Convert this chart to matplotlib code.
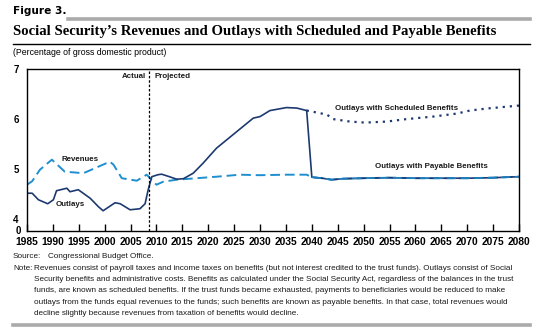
import matplotlib
matplotlib.use("Agg")
import matplotlib.pyplot as plt
from matplotlib.lines import Line2D

W, H = 534, 329

# Social Security outlays (scheduled benefits through 2039), % of GDP
outlay_years = [1985, 1986, 1987.2, 1989, 1990.1, 1990.7, 1992.7, 1993.3, 1994.9,
                1997.2, 1998.8, 1999.7, 2002, 2003, 2004.9, 2006.8, 2007.8,
                2008.4, 2009.1, 2010.3, 2011, 2012.5, 2013.9, 2015.2, 2017.1,
                2019, 2021.6, 2025.5, 2028.7, 2030, 2031.9, 2035.1, 2037.1, 2039]
outlay_vals = [4.52, 4.52, 4.39, 4.31, 4.39, 4.57, 4.62, 4.55, 4.59,
               4.42, 4.25, 4.17, 4.33, 4.31, 4.19, 4.21, 4.31,
               4.59, 4.85, 4.89, 4.90, 4.85, 4.80, 4.81, 4.92,
               5.12, 5.42, 5.75, 6.02, 6.05, 6.17, 6.23, 6.22, 6.17]

# scheduled benefits after trust fund exhaustion
sched_years = [2039, 2041, 2042.9, 2044.1, 2047.4, 2050.3, 2054.4, 2058.3,
               2063.4, 2068, 2070.5, 2073.7, 2080]
sched_vals = [6.17, 6.13, 6.09, 6.00, 5.95, 5.93, 5.95, 6.00,
              6.05, 6.11, 6.17, 6.21, 6.27]

# payable benefits after exhaustion
pay_years = [2039, 2040, 2042, 2043.8, 2046, 2050, 2055, 2060, 2065, 2070, 2075, 2080]
pay_vals = [6.17, 4.84, 4.82, 4.79, 4.81, 4.82, 4.83, 4.82, 4.82, 4.82, 4.83, 4.85]

# revenues
rev_years = [1985, 1986, 1987.5, 1989.8, 1992.3, 1995.9, 2001, 2001.7, 2003.3,
             2006.2, 2008.1, 2010, 2011.3, 2013.9, 2017.8, 2021.6, 2026.1,
             2030, 2035, 2039, 2040, 2042, 2043.8, 2046, 2050, 2055, 2060,
             2065, 2070, 2075, 2080]
rev_vals = [4.69, 4.76, 4.99, 5.19, 4.95, 4.92, 5.15, 5.09, 4.82,
            4.77, 4.89, 4.69, 4.75, 4.79, 4.82, 4.85, 4.89,
            4.88, 4.89, 4.89, 4.84, 4.82, 4.79, 4.81, 4.82, 4.83, 4.82,
            4.82, 4.82, 4.83, 4.85]

xticks = list(range(1985, 2081, 5))
yticks = [4, 5, 6, 7]
split_year = 2008.5

navy = "#1d3a70"
lightblue = "#1f8fd0"
ink = "#1a1a1a"
sans = "Liberation Sans"


def fx(x):
    return x / W


def fy(y):
    return 1 - y / H


fig = plt.figure(figsize=(W / 100, H / 100), dpi=100)

# header rules and texts
fig.add_artist(Line2D([fx(68), fx(530)], [fy(19), fy(19)], color="#aaaaaa", lw=2.6))
fig.add_artist(Line2D([fx(13), fx(530)], [fy(43.5), fy(43.5)], color="black", lw=1.0))
fig.add_artist(Line2D([fx(13), fx(530)], [fy(324.5), fy(324.5)], color="#aaaaaa", lw=2.6))
fig.text(fx(13), fy(11), "Figure 3.", fontsize=7.6, fontweight="heavy",
         family="DejaVu Sans", va="center", ha="left")
fig.text(fx(13), fy(32), "Social Security\u2019s Revenues and Outlays with Scheduled and Payable Benefits",
         fontsize=10.6, fontweight="bold", family="Liberation Serif", va="center", ha="left")
fig.text(fx(13), fy(52.5), "(Percentage of gross domestic product)",
         fontsize=6.3, family=sans, va="center", ha="left")

ax = fig.add_axes([fx(27), fy(231), fx(519) - fx(27), fy(69) - fy(231)])
ax.set_xlim(1985, 2080)
ax.set_ylim(3.766, 7)

ax.plot(rev_years, rev_vals, color=lightblue, lw=1.4, dashes=(5, 2.5))
ax.plot(pay_years, pay_vals, color=navy, lw=1.2)
ax.plot(rev_years[-11:], rev_vals[-11:], color=lightblue, lw=1.3, dashes=(5, 2.5), alpha=0.8)
ax.plot(outlay_years, outlay_vals, color=navy, lw=1.2)
ax.plot(sched_years, sched_vals, color=navy, lw=1.6, dashes=(1, 2.2))
ax.axvline(split_year, color="black", lw=0.9, dashes=(2, 1.5))

for s in ax.spines.values():
    s.set_linewidth(1.0)
ax.set_xticks(xticks)
ax.set_xticklabels([str(t) for t in xticks], fontsize=7.4, fontweight="bold", family=sans)
ax.tick_params(axis="x", direction="in", length=5, width=1, pad=4)
ax.set_yticks(yticks)
ax.set_yticklabels([str(t) for t in yticks], fontsize=7.0, fontweight="bold", family=sans)
ax.tick_params(axis="y", length=0, pad=6)
fig.text(fx(18), fy(231), "0", fontsize=7.0, fontweight="bold", family=sans,
         ha="center", va="center")

lab = dict(fontsize=5.7, fontweight="bold", family=sans, color=ink, va="center")
ax.text(2008.0, 6.86, "Actual", ha="right", **lab)
ax.text(2009.6, 6.86, "Projected", ha="left", **lab)
ax.text(1995.2, 5.19, "Revenues", ha="center", **lab)
ax.text(1993.4, 4.29, "Outlays", ha="center", **lab)
ax.text(2056.4, 6.21, "Outlays with Scheduled Benefits", ha="center", **lab)
ax.text(2063.1, 5.05, "Outlays with Payable Benefits", ha="center", **lab)

# source and note
foot = dict(fontsize=5.9, family=sans, color=ink, va="center", ha="left")
fig.text(fx(13), fy(257), "Source:", **foot)
fig.text(fx(48), fy(257), "Congressional Budget Office.", **foot)
fig.text(fx(13), fy(268.3), "Note:", **foot)
note_lines = [
    "Revenues consist of payroll taxes and income taxes on benefits (but not interest credited to the trust funds). Outlays consist of Social",
    "Security benefits and administrative costs. Benefits as calculated under the Social Security Act, regardless of the balances in the trust",
    "funds, are known as scheduled benefits. If the trust funds became exhausted, payments to beneficiaries would be reduced to make",
    "outlays from the funds equal revenues to the funds; such benefits are known as payable benefits. In that case, total revenues would",
    "decline slightly because revenues from taxation of benefits would decline.",
]
for i, line in enumerate(note_lines):
    fig.text(fx(34), fy(268.3 + i * 11.35), line, **foot)

fig.savefig("out.png", dpi=100)
